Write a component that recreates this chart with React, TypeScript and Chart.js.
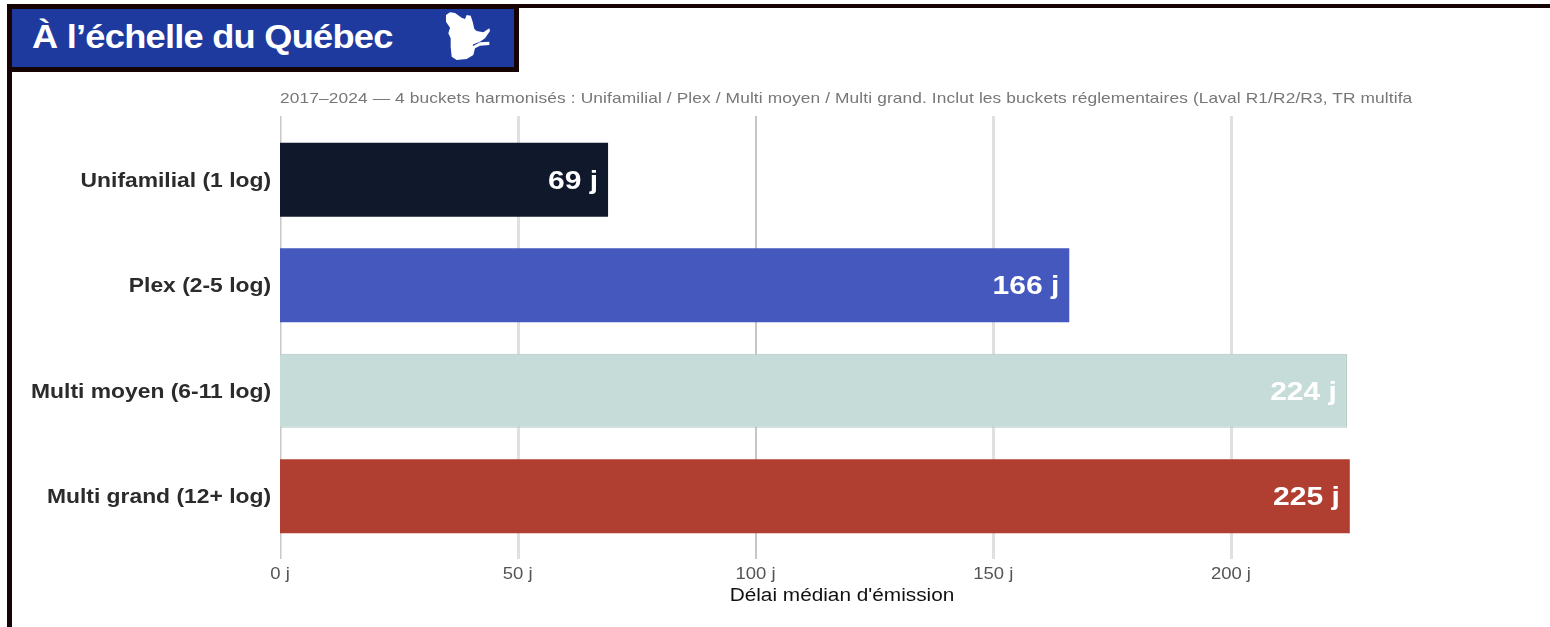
import React, { useEffect, useRef } from "react";
import { Chart, registerables } from "chart.js";

Chart.register(...registerables);

const categories = ["Unifamilial (1 log)", "Plex (2-5 log)", "Multi moyen (6-11 log)", "Multi grand (12+ log)"];
const values = [69, 166, 224.4, 225];
const barColors = ["#10182b", "#4558be", "#c5dcd8", "#b03e31"];
const edgeColors = ["#10182b", "#4558be", "#b4c6c3", "#a8483c"];
const edgeWidths = [0, 0, 1, 0];
const gridValues = [0, 50, 100, 150, 200];
const subtitle = "2017–2024 — 4 buckets harmonisés : Unifamilial / Plex / Multi moyen / Multi grand. Inclut les buckets réglementaires (Laval R1/R2/R3, TR multifa";
const xTitle = "Délai médian d'émission";
const heading = "À l’échelle du Québec";
const FONT = "'Liberation Sans', Arial, sans-serif";
const STRETCH = 1.155;

const gridPlugin = {
  id: "extGrid",
  beforeDatasetsDraw(chart: any) {
    const { ctx, scales } = chart;
    const x = scales.x;
    ctx.save();
    gridValues.forEach((v) => {
      const px = x.getPixelForValue(v);
      if (v === 0) {
        ctx.fillStyle = "#c8c8c8";
        ctx.fillRect(280, 116, 1.5, 443);
      } else if (v === 100) {
        ctx.fillStyle = "#c6c6c6";
        ctx.fillRect(Math.floor(px), 116, 2, 443);
      } else {
        ctx.fillStyle = "#e0e0e0";
        ctx.fillRect(Math.round(px) - 1, 116, 3, 443);
      }
    });
    ctx.restore();
  },
};

const valueLabels = {
  id: "valueLabels",
  afterDatasetsDraw(chart: any) {
    const { ctx } = chart;
    const meta = chart.getDatasetMeta(0);
    ctx.save();
    ctx.font = `bold 26px ${FONT}`;
    ctx.fillStyle = "#ffffff";
    ctx.textAlign = "right";
    ctx.textBaseline = "middle";
    meta.data.forEach((bar: any, i: number) => {
      ctx.fillText(`${Math.round(values[i])} j`, bar.x - 10, bar.y + 2);
    });
    ctx.restore();
  },
};

export default function App() {
  const ref = useRef<HTMLCanvasElement>(null);
  useEffect(() => {
    document.body.style.margin = "0";
    const context = ref.current!.getContext("2d") as any;
    const baseFill = context.fillText.bind(context);
    context.fillText = (t: string, x: number, y: number) => {
      context.save();
      context.translate(x, y);
      context.scale(STRETCH, 1);
      baseFill(t, 0, 0);
      context.restore();
    };
    const chart = new Chart(ref.current!, {
      type: "bar",
      data: {
        labels: categories,
        datasets: [
          {
            data: values,
            backgroundColor: barColors,
            borderColor: edgeColors,
            borderWidth: edgeWidths,
            categoryPercentage: 1,
            barPercentage: 0.7,
          },
        ],
      },
      options: {
        indexAxis: "y",
        animation: false,
        responsive: false,
        layout: { padding: { top: 127, bottom: 20, right: 146, left: 0 } },
        plugins: {
          legend: { display: false },
          tooltip: { enabled: false },
          title: { display: false },
        },
        scales: {
          x: {
            type: "linear",
            min: 0,
            max: 236.4,
            position: "bottom",
            afterFit(s: any) { s.height = 58; },
            afterBuildTicks(s: any) { s.ticks = gridValues.map((value) => ({ value })); },
            grid: { display: false, drawTicks: false },
            border: { display: false },
            ticks: {
              stepSize: 50,
              padding: 16,
              color: "#555555",
              font: { family: FONT, size: 16 },
              maxRotation: 0,
              callback: (v: any) => `${v} j`,
            },
            title: {
              display: true,
              text: xTitle,
              color: "#111111",
              font: { family: FONT, size: 18 },
              padding: { top: 0, bottom: 0 },
            },
          },
          y: {
            type: "category",
            position: "left",
            afterFit(s: any) { s.width = 280; },
            grid: { display: false, drawTicks: false },
            border: { display: false },
            ticks: {
              padding: 9,
              labelOffset: 1.5,
              color: "#2b2b2b",
              font: { family: FONT, size: 19.8, weight: "bold" },
            },
          },
        },
      } as any,
      plugins: [gridPlugin, valueLabels],
    });
    return () => chart.destroy();
  }, []);

  return (
    <div style={{ position: "relative", width: 1550, height: 627, overflow: "hidden", background: "#fff" }}>
      <div style={{ position: "absolute", left: 7, top: 4, width: 1543, height: 4, background: "#160404" }} />
      <div style={{ position: "absolute", left: 7, top: 4, width: 5, height: 623, background: "#160404" }} />
      <canvas
        ref={ref}
        width={1550}
        height={627}
        style={{ position: "absolute", left: 0, top: 0, width: 1550, height: 627, display: "block", background: "transparent" }}
      />
      <div
        style={{
          position: "absolute",
          left: 7,
          top: 4,
          width: 512,
          height: 68,
          boxSizing: "border-box",
          border: "5px solid #160404",
          background: "#1e3a9f",
        }}
      >
        <div
          style={{
            position: "absolute",
            left: 20,
            top: 8,
            color: "#fff",
            font: `bold 34px ${FONT}`,
            letterSpacing: "-0.7px",
            whiteSpace: "nowrap",
            transform: "scaleX(1.065)",
            transformOrigin: "left center",
          }}
        >
          {heading}
        </div>
      </div>
      <svg style={{ position: "absolute", left: 430, top: 5 }} width={80} height={65} viewBox="0 0 240 195">
        <path
          fill="#fff"
          d="M48 30 L60 22 L75 24 L95 38 L105 42 L110 30 L122 32 L128 50 L133 72 L140 78 L160 82 L178 70 L180 78 L165 100 L150 110 L130 118 L128 124 L150 112 L178 110 L178 120 L150 122 L135 130 L130 150 L110 162 L80 165 L65 155 L62 125 L62 100 L55 85 L60 68 L48 50 Z"
        />
      </svg>
      <div
        style={{
          position: "absolute",
          left: 280,
          top: 89,
          color: "#777",
          font: `15px ${FONT}`,
          letterSpacing: "0.1px",
          whiteSpace: "nowrap",
          transform: `scaleX(${STRETCH})`,
          transformOrigin: "left center",
        }}
      >
        {subtitle}
      </div>
    </div>
  );
}
